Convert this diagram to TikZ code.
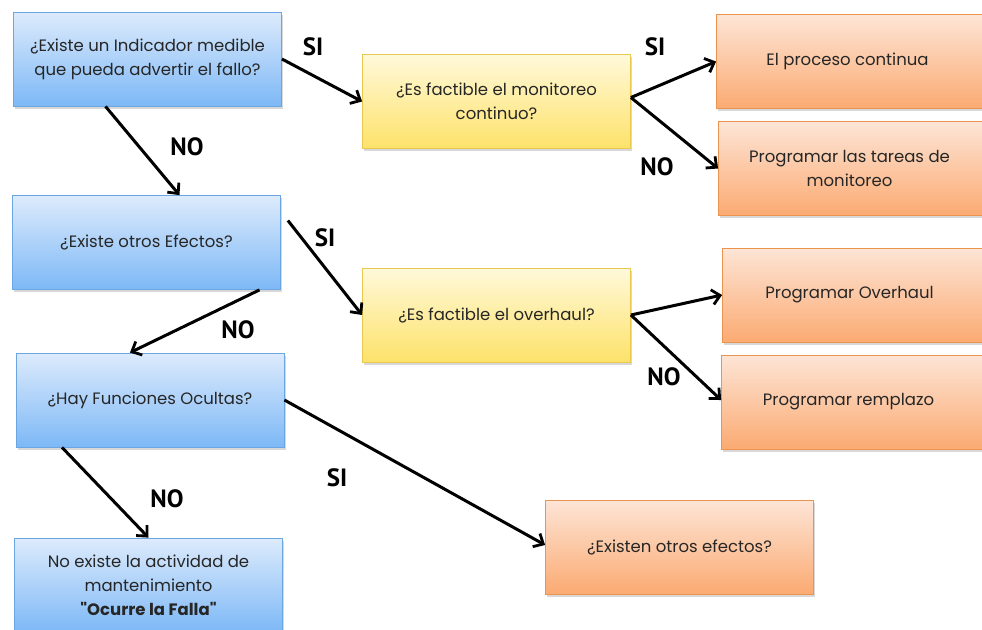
\documentclass[tikz,border=0pt]{standalone}
\usepackage{fontspec}
\setmainfont{Poppins}[Ligatures=TeXOff, BoldFont={Poppins Bold}]
\newfontfamily\lblfont{PT Sans}
\usetikzlibrary{arrows.meta,shadows,calc}
\definecolor{bTop}{HTML}{DDEBFC}
\definecolor{bBot}{HTML}{7DB8F6}
\definecolor{bLine}{HTML}{6BA5E2}
\definecolor{yTop}{HTML}{FFF9DA}
\definecolor{yBot}{HTML}{FDE26A}
\definecolor{yLine}{HTML}{E9C850}
\definecolor{oTop}{HTML}{FDE5D6}
\definecolor{oBot}{HTML}{FBAA72}
\definecolor{oLine}{HTML}{EB9450}
\definecolor{txt}{HTML}{262626}
\begin{document}
\begin{tikzpicture}[x=1pt,y=-1pt,
  box/.style={rectangle, minimum height=94pt, minimum width=268pt, inner sep=4pt,
    align=center, font=\fontsize{16.5}{24}\selectfont, text=txt, line width=0.8pt,
    drop shadow={opacity=0.3, shadow xshift=1.5pt, shadow yshift=-2.5pt}},
  bluebox/.style={box, draw=bLine, top color=bTop, bottom color=bBot},
  yelbox/.style={box, draw=yLine, top color=yTop, bottom color=yBot},
  orabox/.style={box, draw=oLine, top color=oTop, bottom color=oBot},
  lbl/.style={font=\lblfont\bfseries\fontsize{25}{25}\selectfont, text=black},
  arr/.style={line width=3pt, -{Straight Barb[length=8pt,width=15pt,line width=2.8pt]}}
]
\useasboundingbox (0,0) rectangle (982,629);
\fill[white] (0,0) rectangle (982,629);

% boxes
\node[bluebox] (b1) at (147.5,59) {¿Existe un Indicador medible\\que pueda advertir el fallo?};
\node[bluebox] (b2) at (146.5,242.5) {¿Existe otros Efectos?};
\node[bluebox] (b3) at (150,400) {¿Hay Funciones Ocultas?};
\node[bluebox] (b4) at (148.5,585) {No existe la actividad de\\mantenimiento\\\textbf{"Ocurre la Falla"}};
\node[yelbox] (y1) at (496.5,101.5) {¿Es factible el monitoreo\\continuo?};
\node[yelbox] (y2) at (496.5,315) {¿Es factible el overhaul?};
\node[orabox] (o1) at (850.5,61.5) {\hspace*{-6pt}El proceso continua};
\node[orabox] (o2) at (852.5,168.5) {\hspace*{-6pt}Programar las tareas de\\\hspace*{-6pt}monitoreo};
\node[orabox] (o3) at (856.5,295) {\hspace*{-14pt}Programar Overhaul};
\node[orabox] (o4) at (855.5,402) {\hspace*{-14pt}Programar remplazo};
\node[orabox] (o5) at (679.5,547) {¿Existen otros efectos?};

% connectors
\draw[arr] (b1.east) -- (y1.west);
\draw[arr] ([xshift=-42pt]b1.south) -- ([xshift=33pt]b2.north);
\draw[arr] ([yshift=4pt]y1.east) -- (o1.west);
\draw[arr] ([yshift=4pt]y1.east) -- (o2.west);
\draw[arr] ([xshift=7pt,yshift=22pt]b2.east) -- (y2.west);
\draw[arr] ([xshift=113pt]b2.south) -- ([xshift=-20pt]b3.north);
\draw[arr] (y2.east) -- (o3.west);
\draw[arr] (y2.east) -- ([yshift=2pt]o4.west);
\draw[arr] (b3.east) -- ([yshift=2pt]o5.west);
\draw[arr] ([xshift=-88pt]b3.south) -- (b4.north);

% labels
\node[lbl] (l1) at (313,47) {SI};
\node[lbl] (l2) at (187,147) {NO};
\node[lbl] (l3) at (655,47) {SI};
\node[lbl] (l4) at (657,167) {NO};
\node[lbl] (l5) at (325,238) {SI};
\node[lbl] (l6) at (238,330) {NO};
\node[lbl] (l7) at (664,377) {NO};
\node[lbl] (l8) at (337,478) {SI};
\node[lbl] (l9) at (167,499) {NO};
\end{tikzpicture}
\end{document}
